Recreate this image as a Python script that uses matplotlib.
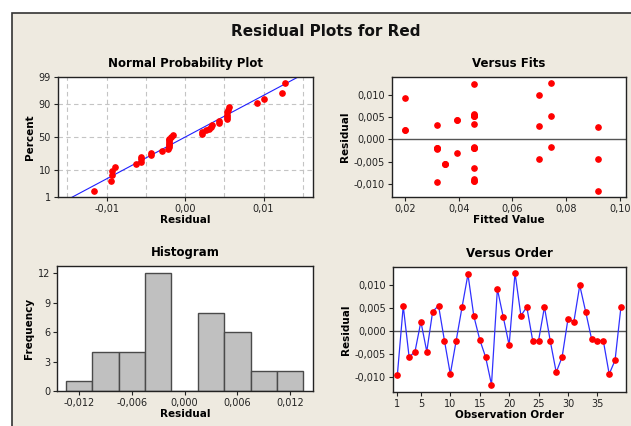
import numpy as np
import matplotlib
matplotlib.use("Agg")
import matplotlib.pyplot as plt
from matplotlib.patches import Rectangle
from matplotlib.ticker import FuncFormatter, FixedLocator
from statistics import NormalDist

# ---- data ----
residuals = [-0.0095, 0.0055, -0.0056, -0.0044, 0.0021, -0.0044, 0.0043, 0.0056, -0.0020, -0.0093,
             -0.0020, 0.0053, 0.0124, 0.0033, -0.0018, -0.0056, -0.0116, 0.0092, 0.0031, -0.0030,
             0.0127, 0.0034, 0.0053, -0.0020, -0.0020, 0.0053, -0.0022, -0.0089, -0.0056, 0.0027,
             0.0021, 0.0100, 0.0043, -0.0016, -0.0020, -0.0020, -0.0093, -0.0063, 0.0053]
fitted = [0.0318, 0.0457, 0.0349, 0.0699, 0.0200, 0.0918, 0.0394, 0.0457, 0.0318, 0.0457,
          0.0457, 0.0457, 0.0457, 0.0318, 0.0457, 0.0349, 0.0918, 0.0200, 0.0699, 0.0394,
          0.0744, 0.0457, 0.0457, 0.0457, 0.0318, 0.0457, 0.0318, 0.0457, 0.0349, 0.0918,
          0.0200, 0.0699, 0.0394, 0.0744, 0.0457, 0.0318, 0.0457, 0.0457, 0.0744]
order = list(range(1, len(residuals) + 1))
hist_edges = [-0.0135, -0.0105, -0.0075, -0.0045, -0.0015, 0.0015, 0.0045, 0.0075, 0.0105, 0.0135]
pct_ticks = [1, 10, 50, 90, 99]

W, H = 631, 426
BG = "#EEEAE0"
FONT = "DejaVu Sans"
plt.rcParams['font.family'] = [FONT]
TICK_FS = 7
TITLE_FS = 8.5
LAB_FS = 7.5

fig = plt.figure(figsize=(W / 100, H / 100), dpi=100, facecolor="white")
bgrect = Rectangle((12 / W, -0.01), 1 - 12 / W + 0.01, 1 - 13 / H + 0.01, transform=fig.transFigure,
                   facecolor=BG, edgecolor="#333333", lw=1.2, zorder=-10)
fig.add_artist(bgrect)
fig.text(326 / W, 1 - 31 / H, "Residual Plots for Red", ha="center", va="center",
         fontsize=11, fontweight="bold", color="#111111")


def ax_px(l, t, r, b):
    ax = fig.add_axes([l / W, 1 - b / H, (r - l) / W, (b - t) / H])
    ax.set_facecolor("white")
    ax.set_zorder(1)
    for s in ax.spines.values():
        s.set_color("#222222")
        s.set_linewidth(1.0)
    ax.tick_params(labelsize=TICK_FS, length=3, width=0.8, colors="#222222", pad=2)
    return ax


def comma(fmt):
    return FuncFormatter(lambda v, p: format(v, fmt).replace(".", ","))


red = dict(marker="o", ms=3.8, mfc="#FF0000", mec="#FF0000", ls="none")
res = np.array(residuals)

# ---- Normal probability plot ----
ax1 = ax_px(58, 77, 313, 197)
n = len(res)
srt = np.sort(res)
nd = NormalDist()
zpos = [nd.inv_cdf((i + 1 - 0.3) / (n + 0.4)) for i in range(n)]
mu, sd = res.mean(), res.std(ddof=1)
zl = np.array([-3.0, 3.0])
ax1.plot(mu + sd * zl, zl, color="#2020FF", lw=0.8, zorder=2)
ax1.plot(srt, zpos, zorder=3, **red)
ax1.set_xlim(-0.0162, 0.0163)
ax1.set_ylim(nd.inv_cdf(0.01), nd.inv_cdf(0.99))
ax1.xaxis.set_major_locator(FixedLocator([-0.01, 0.0, 0.01]))
ax1.xaxis.set_major_formatter(comma(".2f"))
ax1.yaxis.set_major_locator(FixedLocator([nd.inv_cdf(p / 100) for p in pct_ticks]))
ax1.yaxis.set_major_formatter(FuncFormatter(lambda v, p: f"{round(nd.cdf(v) * 100):d}"))
for gx in [-0.015, -0.01, -0.005, 0.0, 0.005, 0.01, 0.015]:
    ax1.axvline(gx, color="#C4C4C4", lw=0.8, ls=(0, (4, 3)), zorder=1)
for p in [10, 50, 90]:
    ax1.axhline(nd.inv_cdf(p / 100), color="#C4C4C4", lw=0.8, ls=(0, (4, 3)), zorder=1)
ax1.set_title("Normal Probability Plot", fontsize=TITLE_FS, fontweight="bold", pad=7)
ax1.set_xlabel("Residual", fontsize=LAB_FS, fontweight="bold", labelpad=1)
ax1.set_ylabel("Percent", fontsize=LAB_FS, fontweight="bold", labelpad=3)

# ---- Versus Fits ----
ax2 = ax_px(392, 77, 626, 197)
ax2.axhline(0, color="#555555", lw=1.0, zorder=1)
ax2.plot(fitted, residuals, zorder=3, **red)
ax2.set_xlim(0.0152, 0.1023)
ax2.set_ylim(-0.0129, 0.0140)
ax2.xaxis.set_major_locator(FixedLocator([0.02, 0.04, 0.06, 0.08, 0.10]))
ax2.xaxis.set_major_formatter(comma(".2f"))
ax2.yaxis.set_major_locator(FixedLocator([-0.01, -0.005, 0, 0.005, 0.01]))
ax2.yaxis.set_major_formatter(comma(".3f"))
ax2.set_title("Versus Fits", fontsize=TITLE_FS, fontweight="bold", pad=7)
ax2.set_xlabel("Fitted Value", fontsize=LAB_FS, fontweight="bold", labelpad=1)
ax2.set_ylabel("Residual", fontsize=LAB_FS, fontweight="bold", labelpad=3)

# ---- Histogram ----
ax3 = ax_px(57, 266, 313, 391)
ax3.hist(res, bins=hist_edges, color="#C0C0C0", edgecolor="#4A4A4A", lw=1.0)
ax3.set_xlim(-0.0145, 0.0146)
ax3.set_ylim(0, 12.75)
ax3.xaxis.set_major_locator(FixedLocator([-0.012, -0.006, 0, 0.006, 0.012]))
ax3.xaxis.set_major_formatter(comma(".3f"))
ax3.yaxis.set_major_locator(FixedLocator([0, 3, 6, 9, 12]))
ax3.set_title("Histogram", fontsize=TITLE_FS, fontweight="bold", pad=7)
ax3.set_xlabel("Residual", fontsize=LAB_FS, fontweight="bold", labelpad=1)
ax3.set_ylabel("Frequency", fontsize=LAB_FS, fontweight="bold", labelpad=3)

# ---- Versus Order ----
ax4 = ax_px(393, 267, 626, 392)
ax4.axhline(0, color="#555555", lw=1.0, zorder=1)
ax4.plot(order, residuals, color="#3030FF", lw=0.9, zorder=2)
ax4.plot(order, residuals, zorder=3, **red)
ax4.set_xlim(0.26, 39.86)
ax4.set_ylim(-0.0132, 0.0140)
ax4.xaxis.set_major_locator(FixedLocator([1, 5, 10, 15, 20, 25, 30, 35]))
ax4.yaxis.set_major_locator(FixedLocator([-0.01, -0.005, 0, 0.005, 0.01]))
ax4.yaxis.set_major_formatter(comma(".3f"))
ax4.set_title("Versus Order", fontsize=TITLE_FS, fontweight="bold", pad=7)
ax4.set_xlabel("Observation Order", fontsize=LAB_FS, fontweight="bold", labelpad=1)
ax4.set_ylabel("Residual", fontsize=LAB_FS, fontweight="bold", labelpad=3)

fig.savefig("out.png", dpi=100, facecolor="white")
